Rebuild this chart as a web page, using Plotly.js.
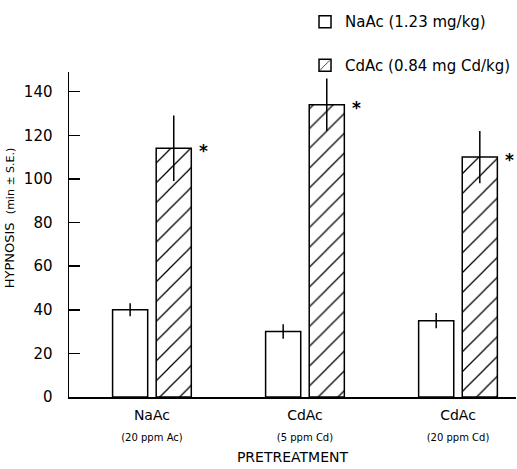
<!DOCTYPE html>
<html>
<head>
<meta charset="utf-8">
<script src="https://cdn.plot.ly/plotly-3.0.1.min.js"></script>
<style>html,body{margin:0;padding:0;background:#fff;}#chart{width:517px;height:469px;}</style>
</head>
<body>
<div id="chart"></div>
<script>
// Data
const groupNames = ['NaAc', 'CdAc', 'CdAc'];
const groupDoses = ['(20 ppm Ac)', '(5 ppm Cd)', '(20 ppm Cd)'];
const groupPositions = [0, 1, 2];
const naacLabel = 'NaAc (1.23 mg/kg)';
const cdacLabel = 'CdAc (0.84 mg Cd/kg)';
const naacValues = [40, 30, 35];
const naacErrors = [3, 3.3, 3.5];
const cdacValues = [114, 134, 110];
const cdacErrors = [15, 12, 12];
const cdacSignificant = [true, true, true];
const yTicks = [0, 20, 40, 60, 80, 100, 120, 140];

const FONT = 'DejaVu Sans, Liberation Sans, Arial, sans-serif';

const tickText = groupNames.map((n, i) =>
  '<span style="font-size:14px">' + n + '</span><br><span style="font-size:10px">' + groupDoses[i] + '</span>');

const traceNa = {
  type: 'bar',
  name: naacLabel,
  x: groupPositions,
  y: naacValues,
  legendgroup: 'a',
  marker: { color: 'white', line: { color: 'black', width: 1.5 } },
  error_y: { type: 'data', array: naacErrors, visible: true, color: 'black', thickness: 1.5, width: 0 },
  hoverinfo: 'skip'
};
const traceCd = {
  type: 'bar',
  name: cdacLabel,
  x: groupPositions,
  y: cdacValues,
  legendgroup: 'b',
  marker: {
    color: 'white',
    line: { color: 'black', width: 1.5 },
    pattern: { shape: '/', fgcolor: 'black', bgcolor: 'white', size: 14, solidity: 0.09, fillmode: 'replace' }
  },
  error_y: { type: 'data', array: cdacErrors, visible: true, color: 'black', thickness: 1.5, width: 0 },
  hoverinfo: 'skip'
};

// bar geometry (group layout) used to place significance stars
const bargap = 0.43, bargroupgap = 0.195;
const slot = (1 - bargap) / 2;
const cdRightEdgeOffset = slot; // right edge of second slot relative to group center

const annotations = [];
groupPositions.forEach((p, i) => {
  if (cdacSignificant[i]) {
    annotations.push({
      x: p + cdRightEdgeOffset, y: cdacValues[i], xref: 'x', yref: 'y',
      text: '<b>*</b>', showarrow: false, xanchor: 'left', yanchor: 'middle',
      xshift: 1, yshift: -3, font: { family: FONT, size: 17, color: 'black' }
    });
  }
});

const layout = {
  width: 517, height: 469,
  margin: { l: 69, r: 1, t: 72, b: 72 },
  paper_bgcolor: 'white', plot_bgcolor: 'white',
  font: { family: FONT, color: 'black', size: 13 },
  barmode: 'group', bargap: bargap, bargroupgap: bargroupgap,
  showlegend: true,
  legend: {
    x: 0.528, y: 1.205, xanchor: 'left', yanchor: 'top',
    traceorder: 'grouped', tracegroupgap: 21,
    font: { family: FONT, size: 15, color: 'black' },
    bgcolor: 'rgba(0,0,0,0)', itemclick: false
  },
  xaxis: {
    range: [-0.542, 2.379],
    tickvals: groupPositions, ticktext: tickText,
    ticks: '', showgrid: false, zeroline: false,
    showline: true, linecolor: 'black', linewidth: 2,
    ticklabelstandoff: 2,
    tickfont: { family: FONT, size: 16, color: 'black' },
    title: { text: 'PRETREATMENT', font: { family: FONT, size: 14, color: 'black' }, standoff: 10 }
  },
  yaxis: {
    range: [0, 149],
    tickvals: yTicks, ticks: 'inside', ticklen: 11, tickwidth: 1.5, tickcolor: 'black',
    ticklabelstandoff: 12,
    showgrid: false, zeroline: false,
    showline: true, linecolor: 'black', linewidth: 1.5,
    tickfont: { family: FONT, size: 15, color: 'black' },
    title: { text: '&nbsp;&nbsp;&nbsp;&nbsp;&nbsp;&nbsp;&nbsp;&nbsp;HYPNOSIS  <span style="font-size:11px">(min ± S.E.)</span>', font: { family: FONT, size: 13, color: 'black' }, standoff: 6 }
  },
  annotations: annotations
};

Plotly.newPlot('chart', [traceNa, traceCd], layout, { staticPlot: true });
</script>
</body>
</html>
